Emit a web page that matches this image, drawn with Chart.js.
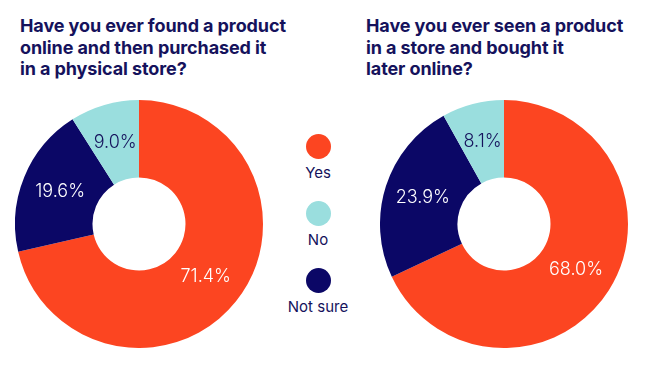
<!DOCTYPE html>
<html>
<head>
<meta charset="utf-8">
<script src="https://cdn.jsdelivr.net/npm/chart.js@4"></script>
<style>
  html, body { margin: 0; padding: 0; background: #fff; }
  body { width: 656px; height: 366px; position: relative; overflow: hidden; font-family: 'Inter', 'Lato', sans-serif; }
  .title { position: absolute; top: 15px; color: #15125c; font-weight: 700; font-size: 18px; line-height: 21.5px; letter-spacing: -0.1px; }
  .box { position: absolute; top: 100px; width: 248px; height: 248px; }
  .legend { position: absolute; left: 268px; width: 100px; top: 134px; text-align: center; color: #15125c; font-size: 15px; }
  .legend .item { height: 67px; }
  .legend .dot { width: 25px; height: 25px; border-radius: 50%; margin: 0 auto 4px auto; }
</style>
</head>
<body>
<div class="title" style="left:20px">Have you ever found a product<br>online and then purchased it<br>in a physical store?</div>
<div class="title" style="left:366px">Have you ever seen a product<br>in a store and bought it<br>later online?</div>

<div class="box" style="left:15px"><canvas id="left" width="248" height="248"></canvas></div>
<div class="box" style="left:380px"><canvas id="right" width="248" height="248"></canvas></div>
<div class="legend" id="legend"></div>

<script>
// slices go clockwise from the top in this order
const categories = ['Yes', 'Not sure', 'No'];
const foundOnlineBoughtStore = [71.4, 19.6, 9.0];
const seenStoreBoughtOnline = [68.0, 23.9, 8.1];

const legendOrder = ['Yes', 'No', 'Not sure'];
const colors = { 'Yes': '#fc4521', 'No': '#9adede', 'Not sure': '#0b0766' };
const labelColors = { 'Yes': '#ffffff', 'No': '#15125c', 'Not sure': '#ffffff' };

const sliceLabels = {
  id: 'sliceLabels',
  afterDatasetsDraw(chart) {
    const ctx = chart.ctx;
    const meta = chart.getDatasetMeta(0);
    const data = chart.data.datasets[0].data;
    ctx.save();
    ctx.font = '300 18px Inter, Lato, sans-serif';
    ctx.textAlign = 'center';
    ctx.textBaseline = 'middle';
    meta.data.forEach((arc, i) => {
      const p = arc.tooltipPosition();
      ctx.fillStyle = labelColors[chart.data.labels[i]];
      ctx.fillText(data[i].toFixed(1) + '%', p.x, p.y);
    });
    ctx.restore();
  }
};

function makeDoughnut(id, values) {
  return new Chart(document.getElementById(id), {
    type: 'doughnut',
    data: {
      labels: categories,
      datasets: [{
        data: values,
        backgroundColor: categories.map(c => colors[c]),
        borderWidth: 0,
        hoverOffset: 0
      }]
    },
    options: {
      responsive: false,
      animation: false,
      cutout: '37.5%',
      layout: { padding: 0 },
      plugins: { legend: { display: false }, tooltip: { enabled: false } }
    },
    plugins: [sliceLabels]
  });
}

makeDoughnut('left', foundOnlineBoughtStore);
makeDoughnut('right', seenStoreBoughtOnline);

const legend = document.getElementById('legend');
legendOrder.forEach(c => {
  const item = document.createElement('div');
  item.className = 'item';
  item.innerHTML = '<div class="dot" style="background:' + colors[c] + '"></div>' + c;
  legend.appendChild(item);
});
</script>
</body>
</html>
